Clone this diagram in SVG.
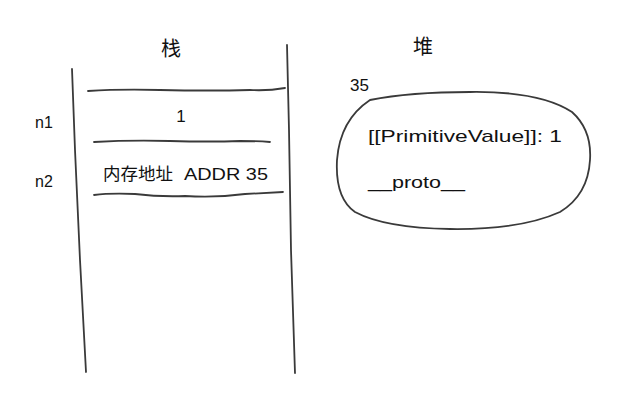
<svg xmlns="http://www.w3.org/2000/svg" width="634" height="408" viewBox="0 0 634 408">
<style>
.ln{fill:none;stroke:#3a3a3a;stroke-width:1.8;stroke-linecap:round;stroke-linejoin:round}
.t{font-family:"Liberation Sans","Noto Sans CJK SC",sans-serif;fill:#111}
.cjk{font-family:"Noto Sans CJK SC","Liberation Sans",sans-serif;fill:#111}
</style>
<rect width="634" height="408" fill="#fff"/>
<g id="stack">
  <text class="cjk" x="171" y="56" font-size="20" text-anchor="middle">栈</text>
  <path class="ln" d="M72,69 L75,150 L80,260 L86,372"/>
  <path class="ln" d="M287,45 L289,130 L291,250 L295,373"/>
  <path class="ln" d="M88,91 Q120,89 160,90 Q210,91 250,90 Q268,91 285,88"/>
  <path class="ln" d="M94,142 Q130,140 170,141 Q210,142 240,141 Q258,141 270,142"/>
  <path class="ln" d="M94,195 Q110,193 135,194 Q160,197 185,196 Q215,198 245,194 Q265,193 283,192"/>
  <text class="t" x="35" y="128" font-size="16">n1</text>
  <text class="t" x="35" y="187" font-size="16">n2</text>
  <text class="t" x="181" y="122" font-size="17" text-anchor="middle">1</text>
  <text class="cjk" x="103" y="180" font-size="17" textLength="70" lengthAdjust="spacingAndGlyphs">内存地址</text>
  <text class="t" x="184" y="180" font-size="17" textLength="84" lengthAdjust="spacingAndGlyphs">ADDR 35</text>
</g>
<g id="heap">
  <text class="cjk" x="423" y="54" font-size="20" text-anchor="middle">堆</text>
  <text class="t" x="350" y="91" font-size="17">35</text>
  <path class="ln" d="M370,100 Q410,92 470,92 Q540,91 572,112 Q592,130 590,160 Q588,195 560,212 Q520,230 450,229 Q385,228 355,212 Q335,198 337,160 Q340,120 370,100 Z"/>
  <text class="t" x="368" y="142" font-size="17" textLength="194" lengthAdjust="spacingAndGlyphs">[[PrimitiveValue]]: 1</text>
  <text class="t" x="368" y="188" font-size="17" textLength="97" lengthAdjust="spacingAndGlyphs">__proto__</text>
</g>
</svg>
